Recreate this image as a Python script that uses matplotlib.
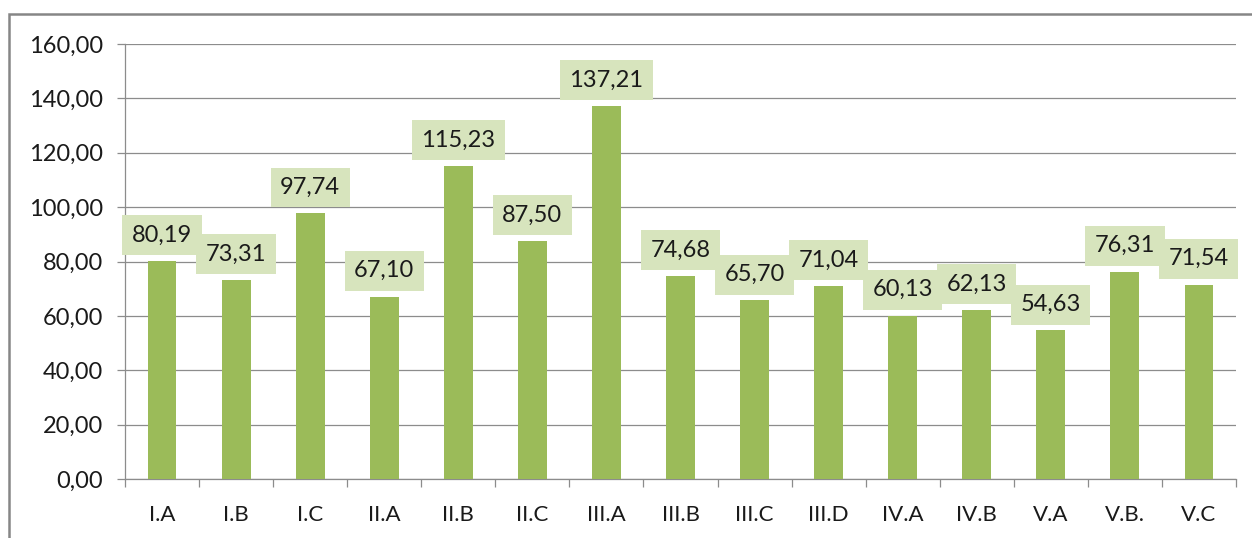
import matplotlib
matplotlib.use("Agg")
import matplotlib.pyplot as plt
from matplotlib.patches import Rectangle
from matplotlib.ticker import FixedLocator, FuncFormatter

categories = ["I.A", "I.B", "I.C", "II.A", "II.B", "II.C", "III.A", "III.B",
              "III.C", "III.D", "IV.A", "IV.B", "V.A", "V.B.", "V.C"]
values = [80.19, 73.31, 97.74, 67.10, 115.23, 87.50, 137.21, 74.68,
          65.70, 71.04, 60.13, 62.13, 54.63, 76.31, 71.54]
y_ticks = [0, 20, 40, 60, 80, 100, 120, 140, 160]

plt.rcParams['font.family'] = ['Lato', 'DejaVu Sans']

fig = plt.figure(figsize=(12.52, 5.38), dpi=100)
W, H = 1252, 538
ax = fig.add_axes([125 / W, 1 - 479 / H, 1111 / W, 435 / H])

# outer chart frame
fig.patches.append(Rectangle((9 / W, -0.1), 1.2, 1 - 14 / H + 0.1,
                             transform=fig.transFigure, fill=False,
                             edgecolor="#868686", linewidth=1.8, zorder=0))

x = list(range(len(categories)))
ax.bar(x, values, width=0.39, color="#9BBB59", zorder=3)

ax.set_xlim(-0.5, len(categories) - 0.5)
ax.set_ylim(0, 160)
ax.set_yticks(y_ticks)
ax.yaxis.set_major_formatter(FuncFormatter(lambda v, p: f"{v:.2f}".replace(".", ",")))
ax.grid(axis="y", color="#8c8c8c", linewidth=0.9, zorder=0)

ax.set_xticks(x)
ax.set_xticklabels(categories)
ax.xaxis.set_minor_locator(FixedLocator([i - 0.5 for i in range(len(categories) + 1)]))
ax.tick_params(axis="x", which="major", length=0, pad=19, labelsize=16, labelcolor="#1a1a1a")
ax.tick_params(axis="x", which="minor", length=6, width=0.9, color="#8c8c8c")
ax.tick_params(axis="y", length=6, width=0.9, color="#8c8c8c", pad=10,
               labelsize=17, labelcolor="#1a1a1a")

for s in ["top", "right"]:
    ax.spines[s].set_visible(False)
for s in ["left", "bottom"]:
    ax.spines[s].set_color("#8c8c8c")
    ax.spines[s].set_linewidth(0.9)

for xi, v in zip(x, values):
    ax.annotate(f"{v:.2f}".replace(".", ","), (xi, v), xytext=(0, 11),
                textcoords="offset points", ha="center", va="bottom",
                fontsize=17, color="#1a1a1a", zorder=5,
                bbox=dict(boxstyle="square,pad=0.4", fc="#D7E4BD", ec="none"))

fig.savefig("out.png", dpi=100)
